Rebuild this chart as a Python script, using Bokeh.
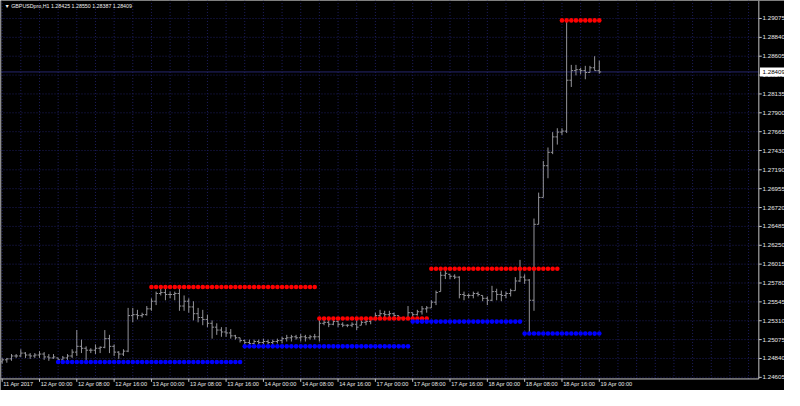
from bokeh.plotting import figure
from bokeh.models import ColumnDataSource, Range1d
from bokeh.core.properties import value
from bokeh.embed import file_html
from bokeh.resources import INLINE

# ---------------- data (GBPUSDpro, H1) ----------------
symbol_header = "\u25BC GBPUSDpro,H1  1.28425 1.28550 1.28387 1.28409"
last_price = 1.28409

bar_open = [
    1.24799, 1.24823, 1.24835, 1.24871, 1.24871, 1.24907, 1.24883, 1.24871, 1.24883, 1.24895,
    1.24859, 1.24847, 1.24847, 1.24823, 1.24847, 1.24871, 1.24919, 1.24991, 1.24967, 1.24943,
    1.24943, 1.24967, 1.24979, 1.25087, 1.24991, 1.24919, 1.24895, 1.24931, 1.25374, 1.25386,
    1.25374, 1.25386, 1.25458, 1.25553, 1.25649, 1.25661, 1.25637, 1.25637, 1.25649, 1.25493,
    1.25553, 1.25482, 1.25398, 1.25350, 1.25326, 1.25278, 1.25230, 1.25194, 1.25170, 1.25158,
    1.25122, 1.25098, 1.25063, 1.25039, 1.25027, 1.25051, 1.25039, 1.25051, 1.25039, 1.25051,
    1.25063, 1.25087, 1.25098, 1.25110, 1.25098, 1.25110, 1.25098, 1.25110, 1.25110, 1.25278,
    1.25290, 1.25266, 1.25302, 1.25266, 1.25254, 1.25254, 1.25266, 1.25254, 1.25290, 1.25302,
    1.25326, 1.25374, 1.25398, 1.25386, 1.25398, 1.25374, 1.25350, 1.25338, 1.25410, 1.25386,
    1.25422, 1.25458, 1.25470, 1.25541, 1.25673, 1.25876, 1.25888, 1.25864, 1.25853, 1.25637,
    1.25625, 1.25625, 1.25649, 1.25625, 1.25589, 1.25565, 1.25673, 1.25637, 1.25625, 1.25649,
    1.25685, 1.25805, 1.25853, 1.25817, 1.25565, 1.26511, 1.26846, 1.27241, 1.27408, 1.27600,
    1.27660, 1.27672, 1.28306, 1.28426, 1.28437, 1.28426, 1.28402, 1.28461, 1.28425,
]
bar_high = [
    1.24847, 1.24847, 1.24895, 1.24895, 1.24955, 1.24919, 1.24907, 1.24907, 1.24931, 1.24919,
    1.24895, 1.24895, 1.24847, 1.24871, 1.24895, 1.24955, 1.25194, 1.25075, 1.24991, 1.24967,
    1.25015, 1.24991, 1.25194, 1.25134, 1.25015, 1.24931, 1.24955, 1.25470, 1.25470, 1.25446,
    1.25410, 1.25493, 1.25589, 1.25673, 1.25709, 1.25709, 1.25673, 1.25673, 1.25733, 1.25625,
    1.25589, 1.25553, 1.25470, 1.25446, 1.25386, 1.25314, 1.25278, 1.25230, 1.25230, 1.25206,
    1.25134, 1.25098, 1.25075, 1.25075, 1.25075, 1.25075, 1.25087, 1.25075, 1.25075, 1.25087,
    1.25110, 1.25134, 1.25134, 1.25134, 1.25146, 1.25134, 1.25134, 1.25146, 1.25326, 1.25326,
    1.25326, 1.25326, 1.25314, 1.25290, 1.25266, 1.25290, 1.25326, 1.25314, 1.25326, 1.25350,
    1.25410, 1.25446, 1.25434, 1.25434, 1.25410, 1.25374, 1.25350, 1.25493, 1.25410, 1.25446,
    1.25493, 1.25493, 1.25565, 1.25685, 1.25924, 1.25948, 1.25888, 1.25888, 1.25864, 1.25673,
    1.25649, 1.25673, 1.25673, 1.25625, 1.25613, 1.25745, 1.25709, 1.25685, 1.25673, 1.25709,
    1.25853, 1.26068, 1.25888, 1.25829, 1.26583, 1.26906, 1.27301, 1.27468, 1.27660, 1.27708,
    1.27708, 1.29051, 1.28497, 1.28497, 1.28461, 1.28485, 1.28485, 1.28605, 1.28550,
]
bar_low = [
    1.24775, 1.24787, 1.24811, 1.24847, 1.24859, 1.24847, 1.24835, 1.24847, 1.24847, 1.24823,
    1.24811, 1.24835, 1.24787, 1.24811, 1.24811, 1.24847, 1.24871, 1.24907, 1.24811, 1.24907,
    1.24895, 1.24907, 1.24967, 1.24907, 1.24871, 1.24835, 1.24871, 1.24919, 1.25290, 1.25326,
    1.25350, 1.25374, 1.25434, 1.25505, 1.25625, 1.25565, 1.25589, 1.25565, 1.25434, 1.25434,
    1.25410, 1.25314, 1.25290, 1.25254, 1.25230, 1.25087, 1.25134, 1.25110, 1.25110, 1.25087,
    1.25075, 1.25039, 1.24991, 1.24991, 1.25015, 1.25015, 1.25015, 1.25015, 1.25015, 1.25027,
    1.25027, 1.25051, 1.25051, 1.25075, 1.25051, 1.25051, 1.25075, 1.25075, 1.25051, 1.25254,
    1.25230, 1.25254, 1.25230, 1.25230, 1.25230, 1.25230, 1.25194, 1.25254, 1.25254, 1.25266,
    1.25314, 1.25326, 1.25326, 1.25326, 1.25326, 1.25314, 1.25314, 1.25326, 1.25314, 1.25374,
    1.25386, 1.25410, 1.25470, 1.25505, 1.25673, 1.25829, 1.25829, 1.25829, 1.25589, 1.25565,
    1.25589, 1.25589, 1.25613, 1.25553, 1.25505, 1.25553, 1.25565, 1.25553, 1.25589, 1.25613,
    1.25685, 1.25793, 1.25769, 1.25146, 1.25434, 1.26511, 1.26846, 1.27085, 1.27385, 1.27504,
    1.27624, 1.27648, 1.28222, 1.28366, 1.28378, 1.28318, 1.28402, 1.28426, 1.28387,
]
bar_close = [
    1.24823, 1.24835, 1.24871, 1.24871, 1.24907, 1.24883, 1.24871, 1.24883, 1.24895, 1.24859,
    1.24847, 1.24859, 1.24823, 1.24847, 1.24871, 1.24919, 1.24991, 1.24967, 1.24943, 1.24943,
    1.24967, 1.24979, 1.25087, 1.24991, 1.24919, 1.24895, 1.24931, 1.25374, 1.25386, 1.25374,
    1.25386, 1.25458, 1.25553, 1.25649, 1.25661, 1.25637, 1.25637, 1.25649, 1.25493, 1.25553,
    1.25482, 1.25398, 1.25350, 1.25326, 1.25278, 1.25230, 1.25194, 1.25170, 1.25158, 1.25122,
    1.25098, 1.25063, 1.25039, 1.25027, 1.25051, 1.25039, 1.25051, 1.25039, 1.25051, 1.25063,
    1.25087, 1.25098, 1.25110, 1.25098, 1.25110, 1.25098, 1.25110, 1.25110, 1.25278, 1.25290,
    1.25266, 1.25302, 1.25266, 1.25254, 1.25254, 1.25266, 1.25230, 1.25290, 1.25302, 1.25326,
    1.25374, 1.25398, 1.25386, 1.25398, 1.25374, 1.25350, 1.25338, 1.25410, 1.25386, 1.25422,
    1.25458, 1.25470, 1.25541, 1.25661, 1.25876, 1.25900, 1.25864, 1.25853, 1.25637, 1.25625,
    1.25625, 1.25649, 1.25637, 1.25589, 1.25565, 1.25673, 1.25637, 1.25625, 1.25649, 1.25685,
    1.25805, 1.25853, 1.25817, 1.25565, 1.26511, 1.26846, 1.27241, 1.27408, 1.27600, 1.27660,
    1.27672, 1.28306, 1.28426, 1.28437, 1.28426, 1.28402, 1.28461, 1.28426, 1.28409,
]

time_tick_index = [0, 8, 16, 24, 32, 40, 48, 56, 64, 72, 80, 88, 96, 104, 112, 120, 128]
time_tick_labels = ["11 Apr 2017", "12 Apr 00:00", "12 Apr 08:00", "12 Apr 16:00",
                    "13 Apr 00:00", "13 Apr 08:00", "13 Apr 16:00", "14 Apr 00:00",
                    "14 Apr 08:00", "14 Apr 16:00", "17 Apr 00:00", "17 Apr 08:00",
                    "17 Apr 16:00", "18 Apr 00:00", "18 Apr 08:00", "18 Apr 16:00",
                    "19 Apr 00:00"]

price_ticks = [1.24605, 1.24840, 1.25075, 1.25310, 1.25545, 1.25780, 1.26015, 1.26250,
               1.26485, 1.26720, 1.26955, 1.27190, 1.27430, 1.27665, 1.27900, 1.28135,
               1.28370, 1.28605, 1.28840, 1.29075]

# resistance (red) and support (blue) levels: first bar, last bar, price
res_start = [32, 68, 92, 120]
res_end = [67, 91, 119, 128]
res_level = [1.25730, 1.25338, 1.25957, 1.29051]
sup_start = [12, 52, 88, 112]
sup_end = [51, 87, 111, 128]
sup_level = [1.24796, 1.24991, 1.25299, 1.25150]

# ---------------- layout constants (styling) ----------------
X0, X1 = -0.357, 167.7      # visible bar-index range, incl. the price-scale strip
SCALE_X = 162.2             # price-scale border (right edge of the chart area)
Y0, Y1 = 1.24441, 1.29299   # visible price range, incl. the time-scale strip
Y_AXIS = 1.24585            # time-scale border (bottom edge of the chart area)
TICK_Y = 0.00036            # length of a time tick mark (in price units)
LABEL_Y = 1.24565           # top of the time labels
font = "Liberation Sans"
grid_color = "#1e1e5e"
axis_col = "#c4c4c4"
label_col = "#e8e8e8"
bar_col = "#94949a"

p = figure(width=784, height=390, output_backend="svg", toolbar_location=None,
           x_range=Range1d(X0, X1), y_range=Range1d(Y0, Y1),
           x_axis_location=None, y_axis_location=None,
           background_fill_color="#000000", border_fill_color="#000000",
           min_border_left=0, min_border_top=0, min_border_right=0, min_border_bottom=0)
p.outline_line_color = None
p.grid.visible = False

# grid: vertical every 4 bars, horizontal at the price ticks (chart area only)
vgrid = list(range(0, 161, 4))
p.segment(x0=vgrid, y0=[Y_AXIS] * len(vgrid), x1=vgrid, y1=[Y1] * len(vgrid),
          line_color=grid_color, line_dash="1 2", line_width=1)
n = len(price_ticks)
p.segment(x0=[X0] * n, y0=price_ticks, x1=[SCALE_X] * n, y1=price_ticks,
          line_color=grid_color, line_dash="1 2", line_width=1)

# bid line
p.segment(x0=[X0], y0=[last_price], x1=[SCALE_X], y1=[last_price],
          line_color="#26266e", line_width=1)

# borders
p.segment(x0=[-0.3, SCALE_X, X0], y0=[Y_AXIS, Y_AXIS, Y_AXIS],
          x1=[-0.3, SCALE_X, SCALE_X], y1=[Y1, Y1, Y_AXIS],
          line_color=[ "#a8a8a8", axis_col, axis_col], line_width=1)

# time scale: tick marks and left-aligned labels
m = len(time_tick_index)
p.segment(x0=time_tick_index, y0=[Y_AXIS] * m, x1=time_tick_index, y1=[Y_AXIS - TICK_Y] * m,
          line_color=axis_col, line_width=1)
p.text(x=[t + 0.25 for t in time_tick_index], y=[LABEL_Y] * m, text=time_tick_labels,
       text_color=label_col, text_font=value(font), text_font_size="5.6px",
       text_baseline="top", text_align="left")

# price scale: tick marks and labels
p.segment(x0=[SCALE_X] * n, y0=price_ticks, x1=[SCALE_X + 0.62] * n, y1=price_ticks,
          line_color=axis_col, line_width=1)
p.text(x=[SCALE_X + 0.8] * n, y=price_ticks, text=[f"{v:.5f}" for v in price_ticks],
       text_color=label_col, text_font=value(font), text_font_size="6.2px",
       text_baseline="middle", text_align="left")

# OHLC bars
idx = list(range(len(bar_open)))
src = ColumnDataSource(dict(
    x=idx, xl=[i - 0.4 for i in idx], xr=[i + 0.4 for i in idx],
    o=bar_open, h=bar_high, l=bar_low, c=bar_close))
p.segment(x0="x", y0="l", x1="x", y1="h", source=src, line_color=bar_col, line_width=1)
p.segment(x0="xl", y0="o", x1="x", y1="o", source=src, line_color=bar_col, line_width=1)
p.segment(x0="x", y0="c", x1="xr", y1="c", source=src, line_color=bar_col, line_width=1)

# level dots
def expand(starts, ends, levels):
    xs, ys = [], []
    for s, e, lv in zip(starts, ends, levels):
        for i in range(s, e + 1):
            xs.append(i)
            ys.append(lv)
    return xs, ys

rx, ry = expand(res_start, res_end, res_level)
bx, by = expand(sup_start, sup_end, sup_level)
p.scatter(rx, ry, size=4.6, marker="circle", fill_color="#ff0000", line_color=None)
p.scatter(bx, by, size=4.6, marker="circle", fill_color="#0000ff", line_color=None)

# current price box on the price scale
p.rect(x=[(SCALE_X + 0.25 + X1) / 2], y=[last_price], width=[X1 - SCALE_X - 0.25],
       height=[9], height_units="screen", fill_color="#ffffff", line_color=None)
p.text(x=[SCALE_X + 0.8], y=[last_price], text=[f"{last_price:.5f}"],
       text_color="#000000", text_font=value(font), text_font_size="6.2px",
       text_baseline="middle", text_align="left")

# header text
p.text(x=[0.5], y=[1.29230], text=[symbol_header], text_color="#f0f0f0",
       text_font=value(font), text_font_size="5.3px", text_baseline="middle",
       text_align="left")

open("out.html", "w").write(file_html(p, INLINE))
